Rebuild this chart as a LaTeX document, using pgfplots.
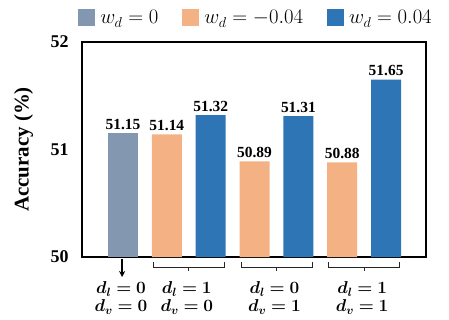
\documentclass[border=0pt]{standalone}
\usepackage{bm}
\usepackage{fontspec}
\setmainfont{Liberation Serif}
\usepackage{pgfplots}
\pgfplotsset{compat=1.18}
\usetikzlibrary{arrows.meta}
\definecolor{cgray}{HTML}{8497B0}
\definecolor{corange}{HTML}{F4B183}
\definecolor{cblue}{HTML}{2E75B6}
\begin{document}
\begin{tikzpicture}
\begin{axis}[
  scale only axis, width=344bp, height=215bp,
  xmin=0.065, xmax=7.91, ymin=50, ymax=52,
  ytick={50,51,52}, xtick=\empty,
  major tick length=0pt,
  axis line style={line width=1.2bp, black},
  clip=false,
  /pgf/number format/assume math mode=true,
  yticklabel style={font=\fontsize{18}{18}\selectfont\bfseries, xshift=-10bp},
  ylabel={Accuracy (\%)},
  ylabel style={font=\fontsize{21}{21}\selectfont\bfseries, at={(axis description cs:-0.17,0.5)}, anchor=center, rotate=0},
  nodes near coords,
  point meta=explicit symbolic,
  nodes near coords style={font=\fontsize{15.5}{15.5}\selectfont\bfseries, anchor=south},
  legend columns=3,
  legend style={draw=none, fill=none, at={(axis description cs:0.5,1)}, anchor=center, yshift=24bp, xshift=2bp,
    font=\fontsize{20.5}{20.5}\selectfont,
    /tikz/every even column/.append style={column sep=22bp},
    /tikz/every odd column/.append style={column sep=3bp}},
  legend image code/.code={\fill[#1] (0bp,-8.5bp) rectangle (17bp,8.5bp);},
]
\addplot[ybar, bar width=30bp, fill=cgray, draw=none] coordinates {(1,51.15) [51.15]};
\addlegendentry{$w_d = 0$}
\addplot[ybar, bar width=30bp, fill=corange, draw=none] coordinates {(2,51.14) [51.14] (4,50.89) [50.89] (6,50.88) [50.88]};
\addlegendentry{$w_d = -0.04$}
\addplot[ybar, bar width=30bp, fill=cblue, draw=none] coordinates {(3,51.32) [51.32] (5,51.31) [51.31] (7,51.65) [51.65]};
\addlegendentry{$w_d = 0.04$}
\draw[line width=1.3bp, -{Stealth[length=6bp,width=6bp]}] ([yshift=-2bp]axis cs:0.98,50) -- ([yshift=-20bp]axis cs:0.98,50);
\draw[line width=0.9bp, black!85] ([yshift=-5bp]axis cs:1.69,50) -- ([yshift=-10bp]axis cs:1.69,50) -- ([yshift=-10bp]axis cs:3.31,50) -- ([yshift=-5bp]axis cs:3.31,50);
\draw[line width=0.9bp, black!85] ([yshift=-10bp]axis cs:2.5,50) -- ([yshift=-14bp]axis cs:2.5,50);
\draw[line width=0.9bp, black!85] ([yshift=-5bp]axis cs:3.69,50) -- ([yshift=-10bp]axis cs:3.69,50) -- ([yshift=-10bp]axis cs:5.31,50) -- ([yshift=-5bp]axis cs:5.31,50);
\draw[line width=0.9bp, black!85] ([yshift=-10bp]axis cs:4.5,50) -- ([yshift=-14bp]axis cs:4.5,50);
\draw[line width=0.9bp, black!85] ([yshift=-5bp]axis cs:5.69,50) -- ([yshift=-10bp]axis cs:5.69,50) -- ([yshift=-10bp]axis cs:7.31,50) -- ([yshift=-5bp]axis cs:7.31,50);
\draw[line width=0.9bp, black!85] ([yshift=-10bp]axis cs:6.5,50) -- ([yshift=-14bp]axis cs:6.5,50);
\node[font=\fontsize{18}{18}\selectfont] at ([xshift=-2bp,yshift=-32bp]axis cs:1,50) {$\bm{d_l = 0}$};
\node[font=\fontsize{18}{18}\selectfont] at ([xshift=-2bp,yshift=-50bp]axis cs:1,50) {$\bm{d_v = 0}$};
\node[font=\fontsize{18}{18}\selectfont] at ([xshift=-2bp,yshift=-32bp]axis cs:2.5,50) {$\bm{d_l = 1}$};
\node[font=\fontsize{18}{18}\selectfont] at ([xshift=-2bp,yshift=-50bp]axis cs:2.5,50) {$\bm{d_v = 0}$};
\node[font=\fontsize{18}{18}\selectfont] at ([xshift=-2bp,yshift=-32bp]axis cs:4.5,50) {$\bm{d_l = 0}$};
\node[font=\fontsize{18}{18}\selectfont] at ([xshift=-2bp,yshift=-50bp]axis cs:4.5,50) {$\bm{d_v = 1}$};
\node[font=\fontsize{18}{18}\selectfont] at ([xshift=-2bp,yshift=-32bp]axis cs:6.5,50) {$\bm{d_l = 1}$};
\node[font=\fontsize{18}{18}\selectfont] at ([xshift=-2bp,yshift=-50bp]axis cs:6.5,50) {$\bm{d_v = 1}$};
\end{axis}
\pgfresetboundingbox
\path[use as bounding box] (-82bp,-63bp) rectangle (367bp,257bp);
\end{tikzpicture}
\end{document}
